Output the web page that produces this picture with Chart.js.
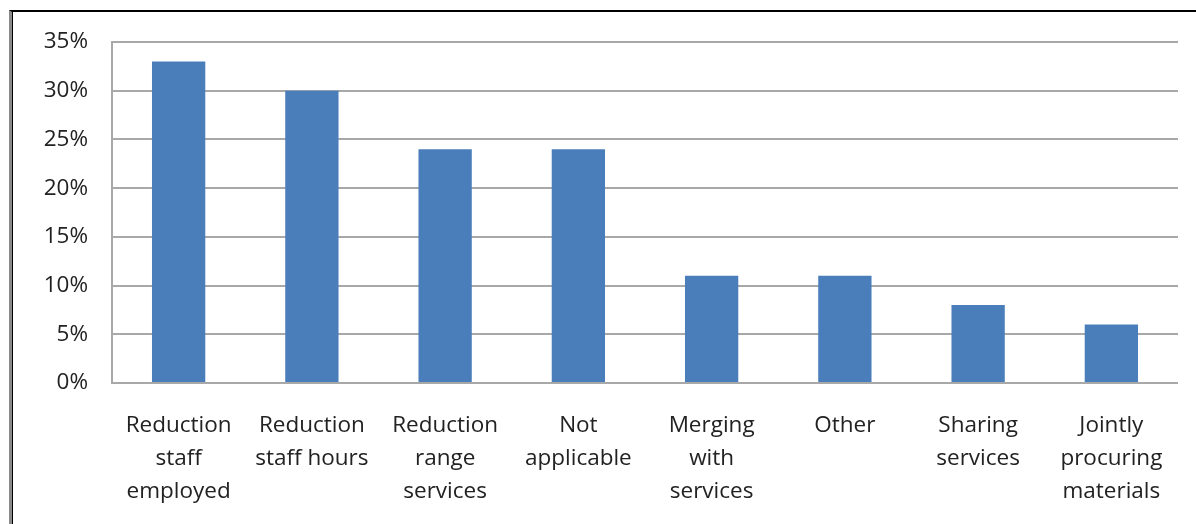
<!DOCTYPE html>
<html>
<head>
<meta charset="utf-8">
<script src="https://cdn.jsdelivr.net/npm/chart.js@4"></script>
<style>
  html, body { margin: 0; padding: 0; background: #fff; }
  #wrap { position: relative; width: 1196px; height: 524px; }
  #frame { position: absolute; left: 9px; top: 10px; right: -5px; bottom: -5px;
           border-top: 2px solid #000; border-left: 3px solid #8a8a8a;
           box-shadow: inset 1px 0 0 #000; }
  canvas { position: absolute; left: 0; top: 0; }
</style>
</head>
<body>
<div id="wrap">
  <div id="frame"></div>
  <canvas id="barChart" width="1196" height="524"></canvas>
</div>
<script>
// categories (multi-line labels) and values in percent
const categories = [
  ['Reduction', 'staff', 'employed'],
  ['Reduction', 'staff hours'],
  ['Reduction', 'range', 'services'],
  ['Not', 'applicable'],
  ['Merging', 'with', 'services'],
  ['Other'],
  ['Sharing', 'services'],
  ['Jointly', 'procuring', 'materials']
];
const shares = [33, 30, 24, 24, 11, 11, 8, 6];
const yTicks = [0, 5, 10, 15, 20, 25, 30, 35];

const fontFamily = "'Open Sans', 'Noto Sans', sans-serif";
const labelFont = { family: fontFamily, size: 22.5, lineHeight: 1.465 };

const ctx = document.getElementById('barChart').getContext('2d');
new Chart(ctx, {
  type: 'bar',
  data: {
    labels: categories,
    datasets: [{
      data: shares,
      backgroundColor: '#4a7ebb',
      borderWidth: 0,
      categoryPercentage: 1,
      barPercentage: 0.4
    }]
  },
  options: {
    responsive: false,
    animation: false,
    layout: { padding: { top: 42, right: 18, left: 0, bottom: 0 } },
    plugins: { legend: { display: false }, tooltip: { enabled: false } },
    scales: {
      x: {
        grid: { display: false, drawTicks: false },
        border: { display: false },
        ticks: { color: '#222', font: labelFont, padding: 26, maxRotation: 0, autoSkip: false },
        afterFit: s => { s.height = 524 - 383; }
      },
      y: {
        min: 0, max: 35,
        afterBuildTicks: s => { s.ticks = yTicks.map(v => ({ value: v })); },
        grid: { color: '#a8a8a8', lineWidth: 2, drawTicks: false },
        border: { display: true, color: '#a8a8a8', width: 2 },
        ticks: {
          color: '#222',
          font: { family: fontFamily, size: 22.5 },
          padding: 24,
          callback: v => v + '%'
        },
        afterFit: s => { s.width = 112; }
      }
    }
  }
});
</script>
</body>
</html>
